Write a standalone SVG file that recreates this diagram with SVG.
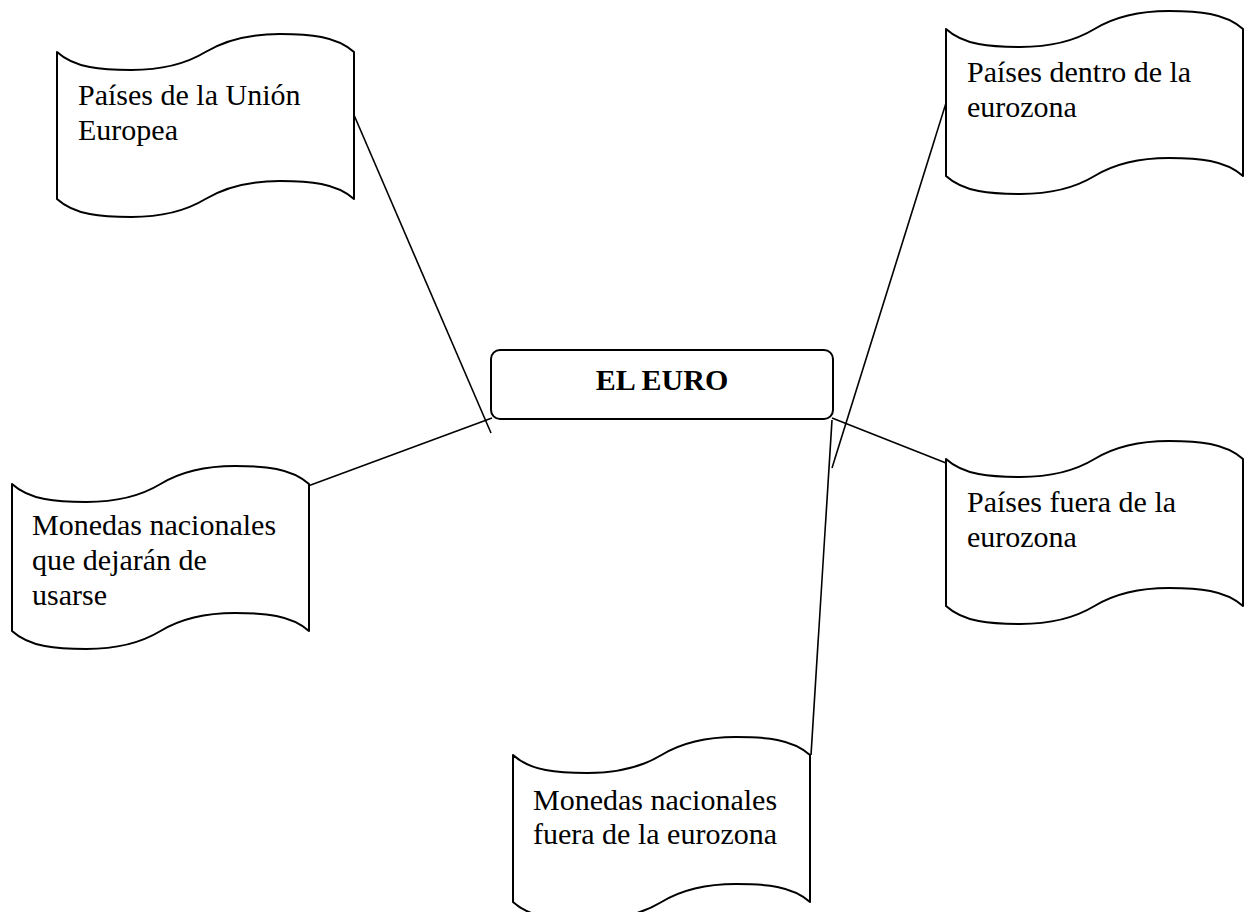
<svg xmlns="http://www.w3.org/2000/svg" xmlns:xlink="http://www.w3.org/1999/xlink" width="1249" height="912" viewBox="0 0 1249 912">
  <style>
    .tape { fill: #ffffff; stroke: #000000; stroke-width: 2; stroke-linejoin: round; }
    .box { fill: #ffffff; stroke: #000000; stroke-width: 2; }
    .conn { stroke: #000000; stroke-width: 1.6; fill: none; }
    .lbl { font-family: "Liberation Serif", "Times New Roman", serif; font-size: 30px; fill: #000000; }
    .title { font-family: "Liberation Serif", "Times New Roman", serif; font-size: 30px; font-weight: bold; fill: #000000; }
  </style>
  <defs>
    <path id="tape" d="M0,0 C17.8,16.2 44.6,18 74.3,18 C106.9,18 130.7,10.8 148.5,0 C166.3,-10.8 190.1,-18 222.8,-18 C252.5,-18 279.2,-16.2 297,0 L297,147 C279.2,130.8 252.5,129 222.8,129 C190.1,129 166.3,136.2 148.5,147 C130.7,157.8 106.9,165 74.3,165 C44.6,165 17.8,163.2 0,147 Z"/>
  </defs>
  <rect x="0" y="0" width="1249" height="912" fill="#ffffff"/>

  <g id="connectors">
    <line class="conn" x1="354" y1="115" x2="491" y2="433"/>
    <line class="conn" x1="308" y1="486" x2="492" y2="418"/>
    <line class="conn" x1="946" y1="103" x2="832" y2="468"/>
    <line class="conn" x1="832" y1="418" x2="946" y2="463"/>
    <line class="conn" x1="832" y1="420" x2="811" y2="755"/>
  </g>

  <g id="node-union-europea">
    <use xlink:href="#tape" href="#tape" class="tape" transform="translate(57,52)"/>
    <text class="lbl" x="78" y="105">Países de la Unión</text>
    <text class="lbl" x="78" y="140">Europea</text>
  </g>

  <g id="node-dentro-eurozona">
    <use xlink:href="#tape" href="#tape" class="tape" transform="translate(946,29)"/>
    <text class="lbl" x="967" y="82">Países dentro de la</text>
    <text class="lbl" x="967" y="117">eurozona</text>
  </g>

  <g id="node-el-euro">
    <rect class="box" x="491" y="350" width="342" height="69" rx="9" ry="9"/>
    <text class="title" x="662" y="390" text-anchor="middle">EL EURO</text>
  </g>

  <g id="node-monedas-dejaran">
    <use xlink:href="#tape" href="#tape" class="tape" transform="translate(12,484)"/>
    <text class="lbl" x="32" y="535">Monedas nacionales</text>
    <text class="lbl" x="32" y="570">que dejarán de</text>
    <text class="lbl" x="32" y="605">usarse</text>
  </g>

  <g id="node-fuera-eurozona">
    <use xlink:href="#tape" href="#tape" class="tape" transform="translate(946,459)"/>
    <text class="lbl" x="967" y="512">Países fuera de la</text>
    <text class="lbl" x="967" y="547">eurozona</text>
  </g>

  <g id="node-monedas-fuera">
    <use xlink:href="#tape" href="#tape" class="tape" transform="translate(513,755)"/>
    <text class="lbl" x="533" y="810">Monedas nacionales</text>
    <text class="lbl" x="533" y="844">fuera de la eurozona</text>
  </g>
</svg>
